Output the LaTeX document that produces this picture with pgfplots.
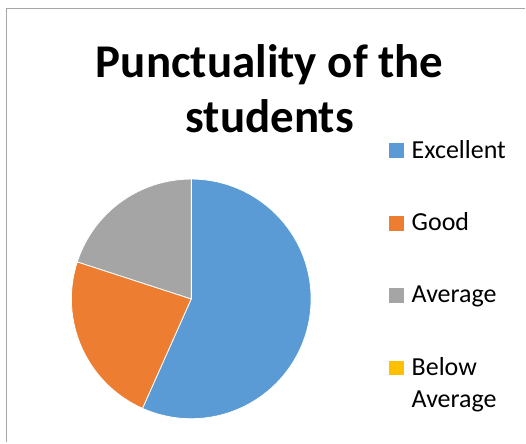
\documentclass[border=0pt]{standalone}
\usepackage{fontspec}
\setmainfont{Carlito}
\usepackage{pgfplots}
\usepackage{pgfplotstable}
\pgfplotsset{compat=1.18}

\definecolor{pie0}{HTML}{5B9BD5}
\definecolor{pie1}{HTML}{ED7D31}
\definecolor{pie2}{HTML}{A5A5A5}
\definecolor{pie3}{HTML}{FFC000}
\definecolor{chartframe}{HTML}{A6A6A6}

% punctuality counts
\pgfplotstableread[col sep=comma]{
label,value
Excellent,17
Good,7
Average,6
Below Average,0
}\piedata

\begin{document}
\begin{tikzpicture}
% total and slice angles (clockwise from 90 deg)
\xdef\pietotal{0}
\pgfplotsinvokeforeach{0,...,3}{
  \pgfplotstablegetelem{#1}{value}\of\piedata
  \pgfmathsetmacro\tmp{\pietotal+\pgfplotsretval}
  \xdef\pietotal{\tmp}
}
\xdef\piestart{90}
\pgfplotsinvokeforeach{0,...,3}{
  \pgfplotstablegetelem{#1}{value}\of\piedata
  \pgfmathsetmacro\tmp{\piestart-360*\pgfplotsretval/\pietotal}
  \expandafter\xdef\csname pieA#1\endcsname{\piestart}
  \expandafter\xdef\csname pieB#1\endcsname{\tmp}
  \xdef\piestart{\tmp}
}
\begin{axis}[
    scale only axis,
    width=394.5pt, height=332.25pt,
    xmin=0, xmax=526, ymin=0, ymax=443,
    hide axis,
    clip=false,
]
% keep the whole canvas as the page
\path (axis cs:0,0) rectangle (axis cs:526,443);
% chart frame (left and top edges visible)
\draw[chartframe, line width=1.1pt] (axis cs:6.5,0) -- (axis cs:6.5,434.5) -- (axis cs:526,434.5);

% slices
\pgfplotsinvokeforeach{0,...,3}{
  \fill[pie#1, draw=white, line width=0.6pt]
    (axis cs:191.5,143.7) -- ++(\csname pieA#1\endcsname:90pt)
    arc[start angle=\csname pieA#1\endcsname, end angle=\csname pieB#1\endcsname, radius=90pt] -- cycle;
}

% title
\node[anchor=base, font=\fontsize{35.25}{42}\selectfont\bfseries] at (axis cs:270,365) {Punctuality of the};
\node[anchor=base, font=\fontsize{35.25}{42}\selectfont\bfseries] at (axis cs:270,310) {students};

% legend
\fill[pie0] (axis cs:390,284.5) rectangle (axis cs:405,299.5);
\node[anchor=base west, inner sep=0pt, font=\fontsize{19.5}{24}\selectfont] at (axis cs:412,284.5) {Excellent};
\fill[pie1] (axis cs:390,212) rectangle (axis cs:405,227);
\node[anchor=base west, inner sep=0pt, font=\fontsize{19.5}{24}\selectfont] at (axis cs:412,212) {Good};
\fill[pie2] (axis cs:390,140) rectangle (axis cs:405,155);
\node[anchor=base west, inner sep=0pt, font=\fontsize{19.5}{24}\selectfont] at (axis cs:412,140) {Average};
\fill[pie3] (axis cs:390,67) rectangle (axis cs:405,82);
\node[anchor=base west, inner sep=0pt, font=\fontsize{19.5}{24}\selectfont] at (axis cs:412,67) {Below};
\node[anchor=base west, inner sep=0pt, font=\fontsize{19.5}{24}\selectfont] at (axis cs:412,35) {Average};
\end{axis}
\end{tikzpicture}
\end{document}
